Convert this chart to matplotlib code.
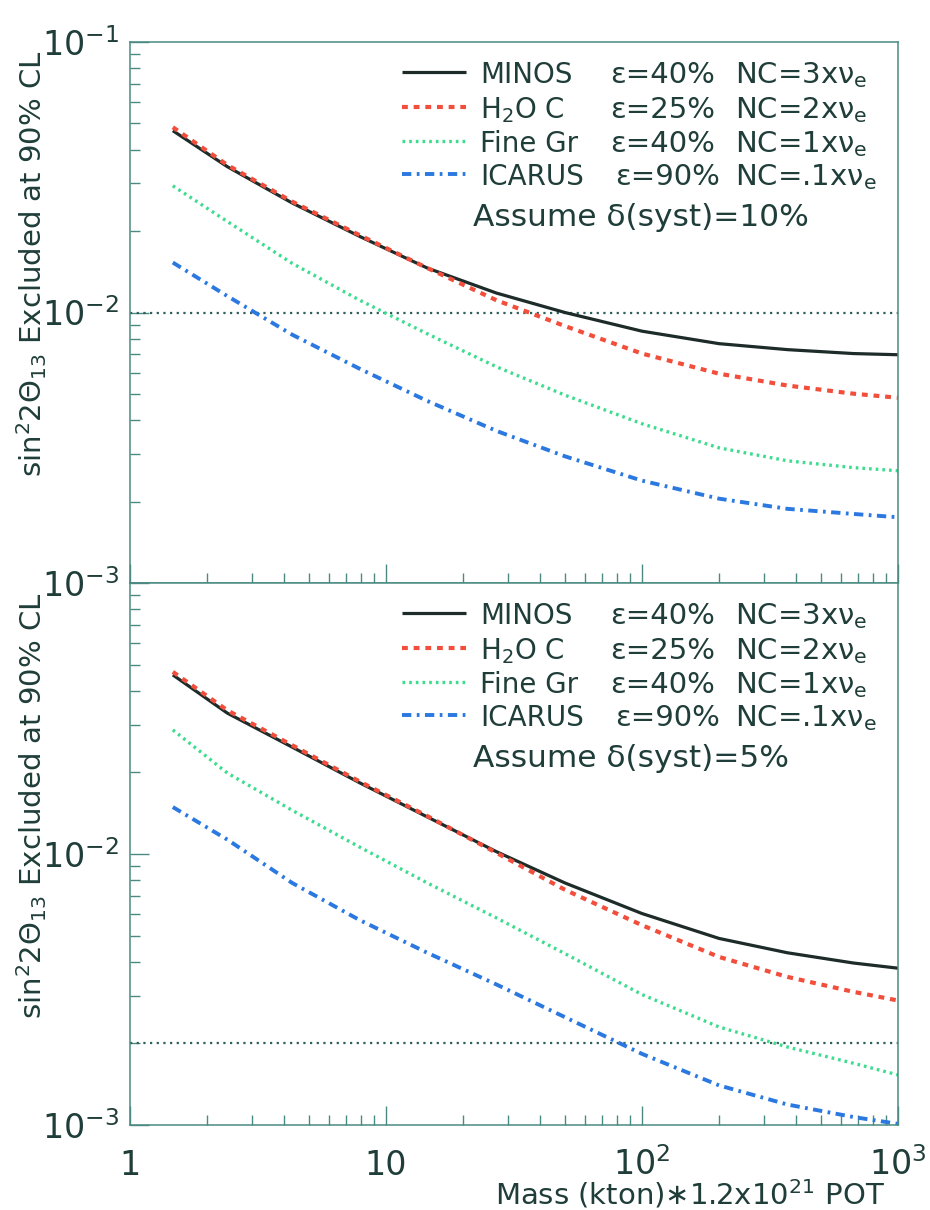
import matplotlib
matplotlib.use("Agg")
import matplotlib.pyplot as plt
from matplotlib.ticker import FixedLocator, FixedFormatter, LogLocator, NullFormatter

plt.rcParams["font.family"] = ["DejaVu Sans"]
plt.rcParams["mathtext.fontset"] = "dejavusans"
plt.rcParams["mathtext.default"] = "regular"

# ---------------- data ----------------
mass = [1.47, 2.4, 4.3, 7.9, 14.5, 27, 50, 100, 200, 370, 670, 1000]

# upper panel: delta(syst) = 10%
top_minos = [0.0470, 0.0346, 0.0254, 0.0191, 0.0146, 0.0118, 0.0100, 0.00853,
             0.00767, 0.00729, 0.00705, 0.00698]
top_h2o = [0.0484, 0.0351, 0.0257, 0.0193, 0.0146, 0.0111, 0.00891, 0.00705,
           0.00594, 0.00537, 0.00501, 0.00484]
top_finegr = [0.0294, 0.0217, 0.0152, 0.0111, 0.00834, 0.00630, 0.00495, 0.00388,
              0.00316, 0.00283, 0.00267, 0.00260]
top_icarus = [0.0153, 0.0115, 0.00828, 0.00619, 0.00471, 0.00365, 0.00294, 0.00239,
              0.00205, 0.00188, 0.00180, 0.00175]

# lower panel: delta(syst) = 5%
bot_minos = [0.0458, 0.0331, 0.0248, 0.0183, 0.0137, 0.0102, 0.00782, 0.00603,
             0.00488, 0.00432, 0.00396, 0.00379]
bot_h2o = [0.0470, 0.0339, 0.0252, 0.0185, 0.0138, 0.0101, 0.00738, 0.00546,
           0.00417, 0.00352, 0.00310, 0.00288]
bot_finegr = [0.0287, 0.0199, 0.0145, 0.0106, 0.00782, 0.00581, 0.00429, 0.00303,
              0.00230, 0.00194, 0.00169, 0.00153]
bot_icarus = [0.0149, 0.0113, 0.00782, 0.00570, 0.00432, 0.00330, 0.00250, 0.00183,
              0.00140, 0.00119, 0.00107, 0.00101]

reference_level = [1e-2, 2e-3]          # horizontal dotted line, upper / lower
syst_labels = ["10%", "5%"]

detectors = ["MINOS", "H$_2$O C", "Fine Gr", "ICARUS"]
efficiencies = ["40%", "25%", "40%", "90%"]
nc_factors = ["3", "2", "1", ".1"]

x_ticks = [1, 10, 100, 1000]
x_tick_labels = ["1", "10", "$10^2$", "$10^3$"]
y_ticks = [1e-3, 1e-2, 1e-1]
y_tick_labels_top = ["$10^{-3}$", "$10^{-2}$", "$10^{-1}$"]
y_tick_labels_bot = ["$10^{-3}$", "$10^{-2}$", ""]

# ---------------- styling ----------------
colors = ["#1d2b29", "#f24e3c", "#3ddc8e", "#2a78e0"]
styles = [
    dict(linestyle="-", linewidth=2.3),
    dict(linestyle=(0, (1.4, 1.4)), linewidth=3.0),
    dict(linestyle=(0, (0.8, 1.2)), linewidth=2.4),
    dict(linestyle=(0, (2.4, 1.4, 0.7, 1.4)), linewidth=2.8),
]
frame_col = "#4a8a82"
text_col = "#1f3d39"

W, H = 930, 1210
fig = plt.figure(figsize=(W / 100, H / 100), dpi=100)
L, R = 130, 898
T1, B1 = 42, 583
T2, B2 = 583, 1125
ax_top = fig.add_axes([L / W, 1 - B1 / H, (R - L) / W, (B1 - T1) / H])
ax_bot = fig.add_axes([L / W, 1 - B2 / H, (R - L) / W, (B2 - T2) / H])

panels = [
    (ax_top, [top_minos, top_h2o, top_finegr, top_icarus], y_tick_labels_top, T1, B1),
    (ax_bot, [bot_minos, bot_h2o, bot_finegr, bot_icarus], y_tick_labels_bot, T2, B2),
]

for i, (ax, series, ylabs, pt, pb) in enumerate(panels):
    ph = pb - pt
    ax.set_xscale("log")
    ax.set_yscale("log")
    ax.set_xlim(1, 1000)
    ax.set_ylim(1e-3, 1e-1)

    ax.axhline(reference_level[i], color="#2f5f59", linestyle=(0, (1, 2)), linewidth=1.6)

    for s, c, st in zip(series, colors, styles):
        ax.plot(mass, s, color=c, solid_capstyle="butt", dash_capstyle="butt", **st)

    for sp in ax.spines.values():
        sp.set_color(frame_col)
        sp.set_linewidth(1.1)

    # ticks
    ax.xaxis.set_major_locator(FixedLocator(x_ticks))
    ax.xaxis.set_minor_locator(LogLocator(base=10, subs=range(2, 10), numticks=20))
    ax.xaxis.set_minor_formatter(NullFormatter())
    ax.yaxis.set_major_locator(FixedLocator(y_ticks))
    ax.yaxis.set_minor_locator(LogLocator(base=10, subs=range(2, 10), numticks=20))
    ax.yaxis.set_minor_formatter(NullFormatter())
    ax.yaxis.set_major_formatter(FixedFormatter(ylabs))
    ax.tick_params(which="both", direction="in", colors=frame_col, labelcolor=text_col,
                   top=False, right=False, width=1.0)
    ax.tick_params(which="major", length=14)
    ax.tick_params(which="minor", length=7)
    ax.tick_params(axis="y", which="major", labelsize=24, pad=8)

    if i == 0:
        ax.tick_params(axis="x", labelbottom=False)
    else:
        ax.xaxis.set_major_formatter(FixedFormatter(x_tick_labels))
        ax.tick_params(axis="x", which="major", labelsize=24, pad=36)
        for lab in ax.get_xticklabels():
            lab.set_va("baseline")
        ax.set_xlabel("Mass (kton)$\\ast$1.2x10$^{21}$ POT", fontsize=21, color=text_col)
        ax.xaxis.label.set_va("center")
        ax.xaxis.set_label_coords((690 - L) / (R - L), (B2 - 1194) / ph)

    ax.set_ylabel("sin$^2$2$\\Theta_{13}$ Excluded at 90% CL", fontsize=21, color=text_col)
    ax.yaxis.label.set_va("center")
    ax.yaxis.set_label_coords((32 - L) / (R - L), 0.59)

    # hand-made legend block
    def fx(px):
        return (px - L) / (R - L)

    def fy(off):
        return 1 - off / ph

    row_off = [30, 65, 99, 132]
    for k in range(4):
        ax.plot([fx(402), fx(466)], [fy(row_off[k]), fy(row_off[k])], transform=ax.transAxes,
                color=colors[k], solid_capstyle="butt", dash_capstyle="butt", **styles[k])
        ax.text(fx(480), fy(row_off[k] + 11), detectors[k], transform=ax.transAxes,
                fontsize=20, color=text_col, va="baseline", ha="left")
        ax.text(fx(610 if k < 3 else 615), fy(row_off[k] + 11), "\u03b5=" + efficiencies[k],
                transform=ax.transAxes, fontsize=21, color=text_col, va="baseline", ha="left")
        ax.text(fx(735), fy(row_off[k] + 11), "NC=" + nc_factors[k] + "x$\\nu_e$",
                transform=ax.transAxes, fontsize=21, color=text_col, va="baseline", ha="left")
    ax.text(fx(473), fy(173 + 11), "Assume \u03b4(syst)=" + syst_labels[i], transform=ax.transAxes,
            fontsize=22.5, color=text_col, va="baseline", ha="left")

fig.savefig("out.png", dpi=100)
